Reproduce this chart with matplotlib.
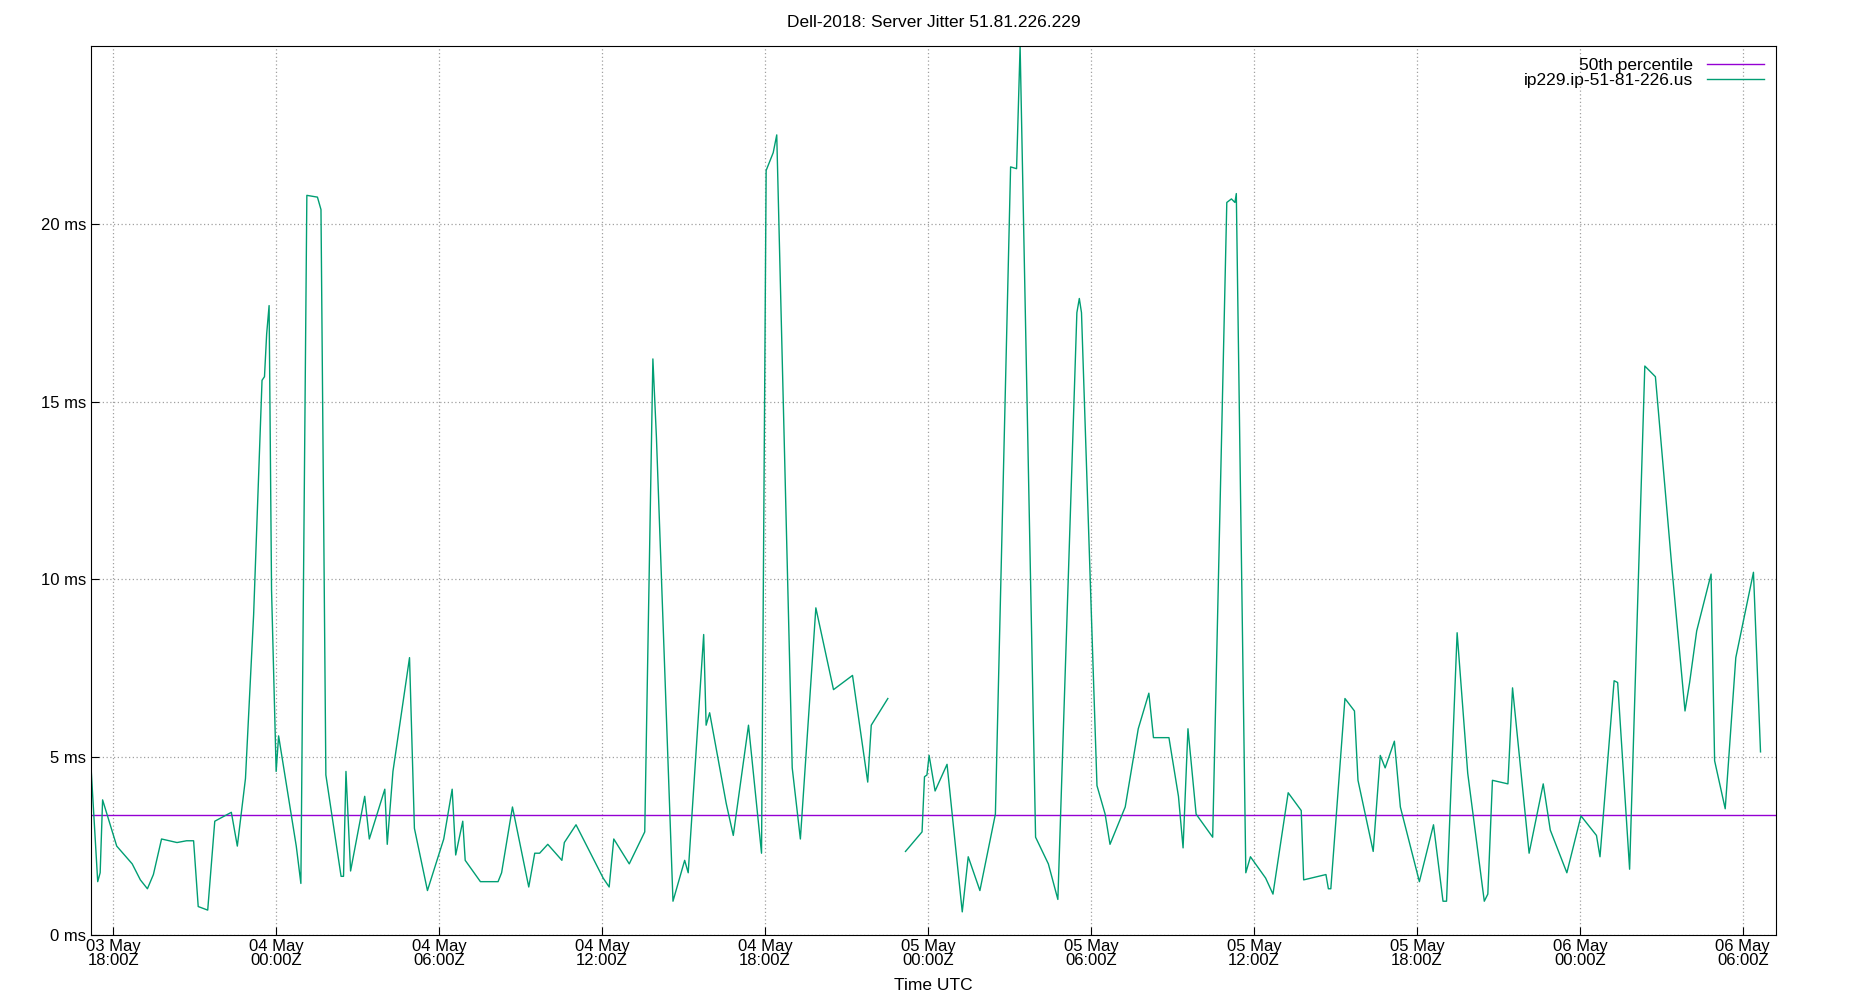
import numpy as np
import matplotlib
matplotlib.use("Agg")
import matplotlib.pyplot as plt
from datetime import datetime, timedelta

plt.rcParams['font.family'] = ['Liberation Sans', 'DejaVu Sans']

# hours after 03 May 18:00Z
hours = [-0.83, -0.57, -0.48, -0.39, 0.13, 0.70, 1.0, 1.26, 1.48, 1.78, 2.35, 2.70, 2.96, 3.13, 3.48,
         3.74, 4.35, 4.57, 4.87, 5.17, 5.48, 5.57, 5.65, 5.74, 5.83, 6.0, 6.09, 6.74, 6.91, 7.13,
         7.52, 7.65, 7.83, 8.39, 8.48, 8.57, 8.74, 9.26, 9.43, 10.0, 10.09, 10.30, 10.91, 11.09,
         11.57, 12.17, 12.48, 12.61, 12.87, 12.96, 13.52, 14.17, 14.30, 14.70, 15.30, 15.52, 15.70,
         16.0, 16.52, 16.61, 17.04, 18.04, 18.26, 18.43, 19.0, 19.57, 19.87, 20.0, 20.61, 21.04,
         21.17, 21.74, 21.83, 21.96, 22.57, 22.83, 23.39, 23.87, 24.04, 24.30, 24.43, 25.0, 25.30,
         25.87, 26.52, 27.22, 27.78, 27.91, 28.52, 29.0, 29.17, 29.78, 29.87, 29.96, 30.04, 30.26,
         30.70, 31.26, 31.48, 31.91, 32.48, 33.04, 33.26, 33.39, 33.96, 34.43, 34.78, 35.48, 35.57,
         35.65, 36.22, 36.52, 36.70, 37.26, 37.74, 38.13, 38.30, 38.87, 39.22, 39.39, 39.57, 39.87,
         40.48, 41.0, 41.17, 41.30, 41.35, 41.70, 41.87, 42.43, 42.70, 43.26, 43.74, 43.83, 44.65,
         44.74, 44.83, 45.35, 45.70, 45.83, 46.39, 46.65, 46.83, 47.17, 47.39, 48.09, 48.61, 48.96,
         49.09, 49.48, 49.87, 50.48, 50.61, 50.78, 51.35, 51.52, 52.13, 52.65, 52.91, 53.52, 54.04,
         54.61, 54.74, 55.26, 55.39, 55.83, 56.39, 56.78, 57.39, 57.87, 58.04, 58.30, 58.83, 58.96,
         59.35, 59.74, 60.39, 60.65]
jitter = [4.9, 1.5, 1.75, 3.8, 2.5, 2.0, 1.55, 1.3, 1.7, 2.7, 2.6, 2.65, 2.65, 0.8, 0.7,
          3.2, 3.45, 2.5, 4.4, 9.0, 15.6, 15.7, 16.9, 17.7, 9.7, 4.6, 5.6, 2.5, 1.45, 20.8,
          20.75, 20.4, 4.5, 1.65, 1.65, 4.6, 1.8, 3.9, 2.7, 4.1, 2.55, 4.6, 7.8, 3.0,
          1.25, 2.7, 4.1, 2.25, 3.2, 2.1, 1.5, 1.5, 1.75, 3.6, 1.35, 2.3, 2.3, 2.55, 2.1, 2.6,
          3.1, 1.6, 1.35, 2.7, 2.0, 2.9, 16.2, 14.0, 0.95, 2.1, 1.75, 8.45, 5.9, 6.25, 3.7, 2.8,
          5.9, 2.3, 21.5, 22.0, 22.5, 4.7, 2.7, 9.2, 6.9, 7.3, 4.3, 5.9, 6.65, np.nan, 2.35, 2.9,
          4.45, 4.5, 5.05, 4.05, 4.8, 0.65, 2.2, 1.25, 3.4, 21.6, 21.55, 25.0, 2.75, 2.0, 1.0,
          17.5, 17.9, 17.5, 4.2, 3.4, 2.55, 3.6, 5.8, 6.8, 5.55, 5.55, 3.9, 2.45, 5.8, 3.4, 2.75,
          20.6, 20.7, 20.6, 20.85, 1.75, 2.2, 1.6, 1.15, 4.0, 3.5, 1.55, 1.7, 1.3, 1.3, 6.65, 6.3,
          4.35, 2.35, 5.05, 4.7, 5.45, 3.6, 1.5, 3.1, 0.95, 0.95, 8.5, 4.55, 0.95, 1.15, 4.35,
          4.25, 6.95, 2.3, 4.25, 2.95, 1.75, 3.35, 2.8, 2.2, 7.15, 7.1, 1.85, 16.0, 15.7, 10.3,
          6.3, 7.1, 8.55, 10.15, 4.9, 3.55, 7.8, 10.2, 5.15]
median_ms = 3.38
server = "ip229.ip-51-81-226.us"

t0 = datetime(2024, 5, 3, 18, 0)
times = [t0 + timedelta(hours=h) for h in hours]

fig = plt.figure(figsize=(18.5, 10), dpi=100)
ax = fig.add_axes([0.049, 0.065, 0.911, 0.889])
ax.axhline(median_ms, color="#9400d3", lw=1, label="50th percentile")
ax.plot(times, jitter, color="#009e73", lw=1, label=server)

ax.set_xlim(t0 - timedelta(hours=0.83), t0 + timedelta(hours=61.22))
ax.set_ylim(0, 25)
ax.set_yticks([0, 5, 10, 15, 20])
ax.set_yticklabels([f"{v} ms" for v in [0, 5, 10, 15, 20]])
ticks = [t0 + timedelta(hours=6 * i) for i in range(11)]
ax.set_xticks(ticks)
ax.set_xticklabels([t.strftime("%d %b\n%H:%MZ") for t in ticks], linespacing=0.9)
ax.tick_params(labelsize=12, direction="in", length=6, pad=3)
ax.grid(True, color="#a0a0a0", linestyle=(0, (1, 2)), lw=0.9)
ax.set_xlabel("Time UTC", fontsize=12.5, labelpad=7)
ax.set_title("Dell-2018: Server Jitter 51.81.226.229", fontsize=12.5, pad=14)
ax.legend(loc="upper right", markerfirst=False, frameon=False, fontsize=12.5,
          handlelength=3.3, borderaxespad=0.3, labelspacing=0.0)
fig.savefig("out.png")
